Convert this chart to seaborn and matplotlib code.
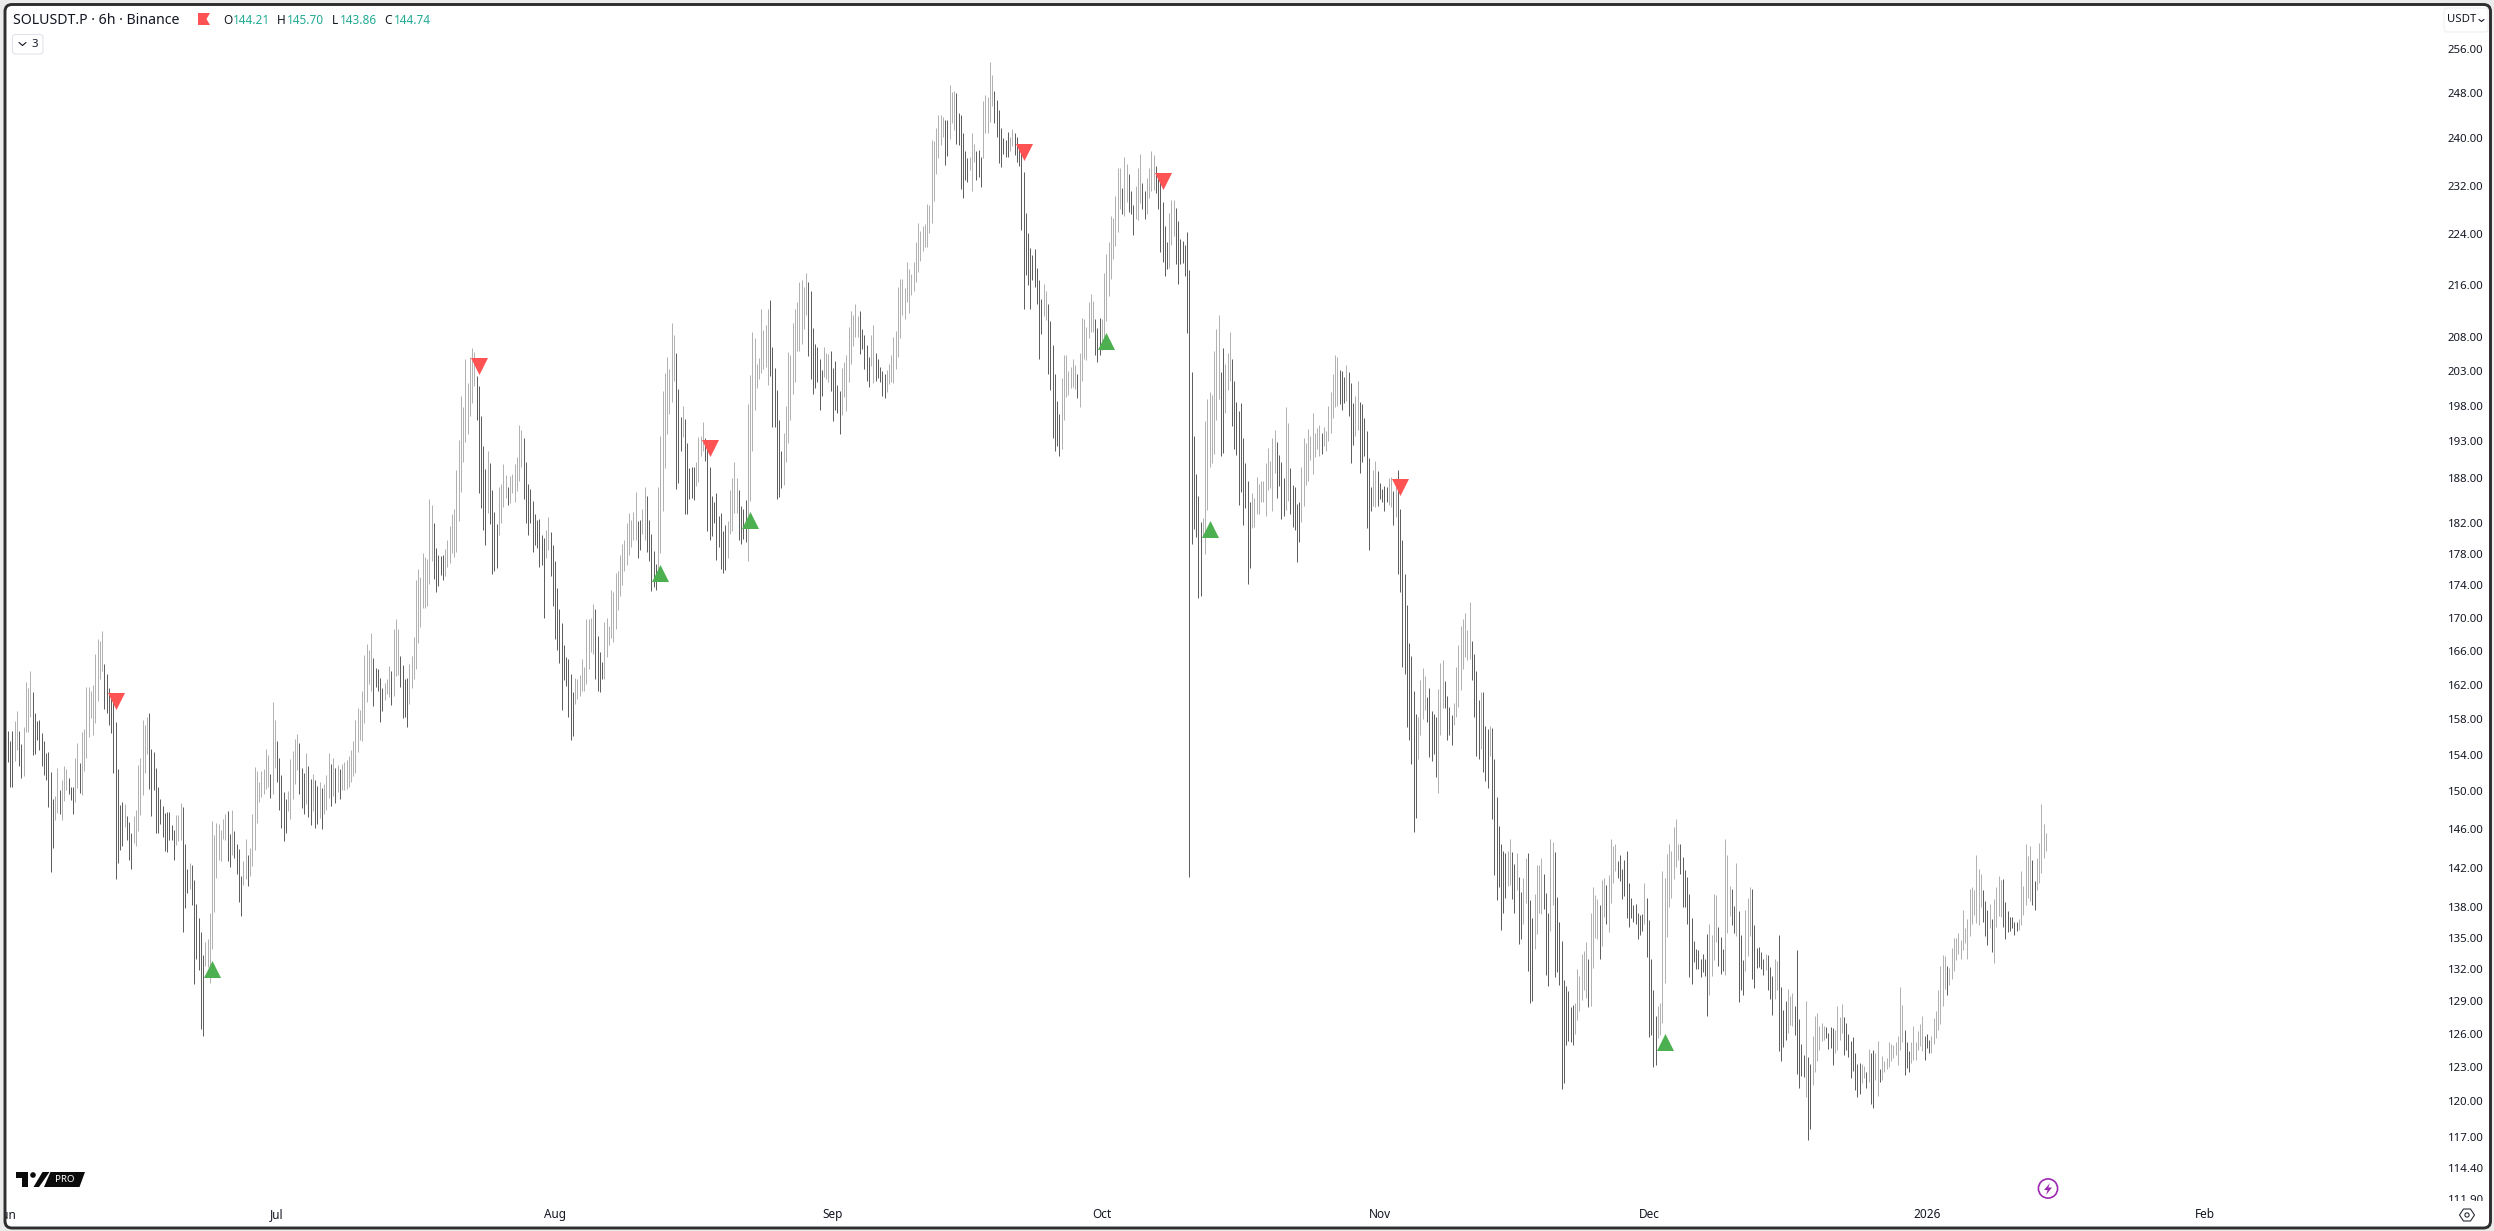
import matplotlib
matplotlib.use("Agg")
import matplotlib.pyplot as plt
import matplotlib.dates as mdates
from matplotlib.patches import FancyBboxPatch, Polygon, Circle
from matplotlib.ticker import FixedLocator, NullLocator
from matplotlib.transforms import Bbox
import pandas as pd
import seaborn as sns

# Each 6h bar is (first price, last price): up bars run low->high, down bars high->low.
bars_june = [(156.7,153.2),(155.5,150.5),(156.7,150.5),(153.3,157.8),(154.5,158.9),(156.7,152.8),(155.2,151.5),(151.7,157.1),(156.5,162.3),(156.5,161.6),
(158.2,163.6),(161.1,154.0),(158.7,154.1),(157.8,155.6),(157.9,154.5),(156.4,152.8),(155.5,151.8),(154.2,151.2),(154.3,148.3),(152.1,141.5),
(149.2,144.0),(146.9,149.5),(147.7,152.6),(150.2,147.6),(146.9,151.2),(149.0,152.8),(150.1,152.4),(151.5,149.7),(150.5,149.1),(150.5,147.6),
(148.9,153.7),(150.4,155.3),(153.1,149.8),(149.6,156.5),(152.2,156.9),(153.7,161.7),(156.0,161.7),(158.1,161.3),(156.2,161.9),(157.6,165.6),
(160.1,167.4),(162.7,167.2),(163.6,168.3),(164.4,159.2),(163.2,158.7),(161.6,157.4),(160.8,156.4),(160,152),(157.7,140.8),(152.4,142.5),
(148.5,143.8),(148.9,144.2),(146.2,148.7),(147.4,144.8),(146.7,142.8),(145.6,141.9),(144.5,147.4),(144.2,148.0),(145.8,152.9),(147.5,153.6),
(149.6,157.9),(152,157.4),(154.1,158.2),(158.7,150.3),(154.7,147.4),(154.3,150.1),(152.6,145.6),(150.5,145.6),(149.2,146.5),(148.4,145.2),
(147.7,143.7),(147.8,143.6),(147.8,144.8),(146.4,144.8),(145.9,142.8),(144.3,147.5),(144.7,147.5),(144.8,148.8),(148.3,135.6),(144.4,137.9),
(141.9,139.4),(139.8,142.5),(142.3,138.2),(140.7,130.6),(138.3,133.0),(136.9,131.9),(135.6,126.4),(133.3,125.8),(132.3,134.6),(132.2,134.9),
(130.7,137.4),(133.9,146.8),(137.5,145.4),(140.9,146.6),(142.8,146.5),(142.7,145.9),(144.9,147.0),(144.8,147.6),(147.9,142.7),(145.5,142.1),
(143.3,148),(145.8,143.0),(144.4,141.3),(143.9,138.5),(141.1,137.1),(140.2,142.7),(140.8,144.9),(143.3,140.1),(141.1,144.0),(142.2,147.6),
(143.8,152.7),(146.6,152.2),(148.9,151.0),(149.4,152.2),(149.7,152.4),(150.3,154.7),(150.5,154.0),(151.9,149.3),(149.7,160),(152.6,157.9),
(155.5,151.0),(153.7,148),(151.8,146.1),(149.9,144.7),(149.2,145.6),(147.9,150),(147.1,153.5),(149.2,154.4),(150.8,155.8),(152.3,156.3),(155.3,149.7)]

bars_july = [(152.6,148.2),(152,147.6),(148.6,154.2),(152.8,147.3),(151.4,146.4),(147.9,151.9),(151.2,146.1),(150.6,146.5),(147.2,151.0),(150.4,146.0),
(147.6,150.8),(148.0,151.8),(149.3,154.2),(153.0,148.4),(149.5,153.6),(152.5,148.8),(149.9,152.9),(152.4,149.2),(150.2,153.0),(150.1,153.2),(150.3,153.4),
(150.5,153.9),(151,154.5),(151.7,155.5),(152,157.9),(154.3,159.3),(155.7,159.1),(155.5,161.2),(157.6,165.5),(160,166.8),(162.1,166.1),(161.2,168.1),
(165.1,159.5),(163.9,161.7),(163.8,161.3),(162.8,157.7),(161.6,158.9),(160.2,162.2),(160.9,162.7),(160.5,164.2),(163.6,159.6),(160.7,168.6),(163,169.8),(163.1,168.6),
(165.4,161.7),(164.3,158.1),(162.6,158.3),(162.8,157.1),(159.7,164.4),(161.6,165.4),(162.6,167.6),(163.8,174.7),(166.9,176),(168.8,175),(171.2,178.1),(171.2,177.6),(171.4,177.3),
(174.1,185.1),(177,184.4),(182,174.8),(178.7,173.2),(177.8,173.9),(177.7,175.3),(177.8,174.7),(175.1,178.6),(176.3,179.8),(176.8,181.6),(178.1,183.2),(177.6,183.8),
(178.2,189),(182.2,193.2),(186.1,199.4),(190.2,197.8),(192.9,204.8),(194,201.3),(196.5,205.1),(198.4,206.4),(200.8,205.8),(202.3,196),(200.8,186),(196.5,184),(192.4,181),(189.2,179.1),
(183.3,191.7),(190,181.9),(186.4,175.4),(183.4,175.8),(181.9,176.2),(180.4,186.8),(182,187.2),(184.1,189.8),(185.3,188.4),(186.8,184.3),(184.6,188.3),(186,188.5),(184.8,189.8),(186.2,190.8),
(187.6,195.3),(189.5,194.5),(193.5,185.2),(190.2,182),(187.2,180.4),(186.5,182),(184.9,178.2),(183.2,179.1),(182.3,178.7),(182.5,176.3),(180.4,176.6),(180,170),(177.5,181.1),(178.5,182.7),
(180.8,175.2),(179.1,171.4),(177,167.4),(173.6,166.1),(171.1,164.5),(169.3,159.1),(166.7,162.5),(165.2,161.8),(165,158.3),(163.2,155.7),(161.1,156.1),(159.7,162.8),(160.3,162.7),(160.7,163.1),
(161.3,165),(161.2,164),(162.1,169.8),(163.8,169.8),(165.8,170),(165.6,171.7),(171,162.7),(167.8,161.2),(165.8,161.1),(164.6,162.7),(162.6,169.5),(165.2,169.9),(166.7,169),(167.5,173.4),(167,173.1),(168.6,175.5),(170.9,175.8)]

bars_august = [(172.6,177.8),(174,179.3),(175.8,179.7),(176.6,182),(177.8,183.3),(178.8,182.3),(179.7,183.4),(179.7,186.1),(182.2,177.4),(182.3,178.5),(180.5,183.8),(179.8,186.8),(185.5,178.2),(182.3,177.1),
(180.6,173.3),(178.3,173.8),(176.7,173.4),(174.7,186.7),(178.1,193.8),(183.6,200.1),(189.3,202.7),(194,205),(196.8,203.3),(198.5,210.1),(201.5,208.3),(205.6,186.5),(200.4,187.3),(196.4,191.7),
(193.6,198),(196.1,183.2),(192.7,183.2),(189.3,185.2),(189.5,185.3),(189.4,185),(186.9,190.2),(187.4,193.6),(190.9,193.7),(191.7,195.7),(193.4,190.3),(192.1,180.9),(189.4,179.7),(185.5,180.3),
(184.8,182),(185.9,177.2),(182.9,178.9),(183.3,176.1),(180.9,175.5),(181.7,175.9),(177.4,182.2),(180.6,186.3),(180.9,187.9),(183.3,190.2),(183.3,188),(186.4,179.7),(184.2,179.3),(183.8,179.9),(185,179.5),
(177,198.2),(184.9,202.4),(191.7,208.8),(197.4,207.9),(200.5,204),(201.8,204.9),(202.7,212.2),(203.3,209.1),(203.6,209.9),(201,212.2),(213.6,202.3),(206.6,195),(203.5,195),(200.3,185.2),(196,185.4),(191.7,186.6),
(187,194.2),(190.2,198),(192.7,205.8),(196,205.3),(199.7,210.1),(201.4,212.2),(206,213.3),(206,216.5),(207,216.8),(209.3,215.7),(211.4,217.8),(216.4,205.2),(215,201.8),(209.4,199.7),(207,200.5),(206.6,201.4),(204.8,197.4),(203.2,199.4),
(202.1,206.6),(201.9,205.7),(201.4,205.5),(206,200.1),(203.5,195.8),(204.5,197.4),(201,197),(200.1,194),(196.7,203.5),(199.2,204.4),(197.3,205.3),(201.4,209.6),(204.1,211.9),(206.7,211.3),(208,213),(208.1,211.2),
(211.9,205.5),(209.2,206.2),(208.3,203.3),(206.8,201.6),(205,200.7),(203.7,208.3),(201.3,209.9),(205.7,201.6),(204.7,202),(203.6,201.4),(203,199.4),(202.5,199.1),(200,203.2),(201.1,204),(201.4,205.3),(201.3,208),(203.3,209),
(205.1,215.7),(207.9,216.9),(211.3,216.9),(210.7,215.5),(213.4,219.6),(211.6,218.5),(214.4,217.7),(215.1,219.6),(216.5,222.7),(218,225.8),(219.8,224.5),(221.3,225.3),(221.9,225.6),(222,229),(224.2,228.8),(225.9,239.7),(229.5,239.5),
(234,241.8),(236.7,244.1),(238.8,244.1),(240.3,243.7),(243.2,235.5),(243.2,237)]

bars_september = [(239.9,249.5),(242.6,248.2),(241.4,248.4),(247.9,239),(244.5,238.9),(244,231.4),(241,229.9),(237.8,232.9),(236.6,232.6),(234.6,236.9),(231.1,240.9),(236,239),(237.8,233),(238.1,233.5),(236.9,231.7),(236.7,246.6),(240.9,247.7),(240.9,247.2),
(242.9,253.5),(245.7,251.3),(248.4,242.7),(246.8,240.2),(244.9,235.8),(241.9,235.1),(240,237.3),(239.7,236.8),(241.2,236.9),(237.9,240.2),(238.7,241.7),(241,237.1),(240.2,235.9),(238.7,235.3),(237.8,224.7),(234.2,212.3),(227.5,217.6),(224.2,216),
(221.8,212.3),(220.7,216.8),(221.7,215.7),(218.7,213.1),(216.8,204.7),(213.8,208.5),(211.2,216.2),(210.6,215.1),(213.1,202.6),(210.5,200.3),(206.8,193.5),(202.6,191.6),(198.7,192.4),(196.8,190.9),(191.9,202),(196,205.4),(199.2,205.3),(199.6,203),
(200.6,203.6),(200.7,204.8),(200.4,203.9),(202.6,199.1),(197.8,205.7),(201.5,210.9),(204.7,210.8),(204.6,209.5),(207.9,213.4),(208.8,214.6),(208.8,213.5),(210.8,205.4),(209.4,204.3),(210.9,205.3),(206.1,210.8),(207.6,217.9),(210.5,220.9),(214.3,222.8),
(216.9,226.9),(220,226.6),(222.1,230.3),(224.4,234.9),(228.1,234.9),(231.6,227.3),(226.9,236.9),(229.3,235.6),(234,227.6),(231.1,227.3),(228.8,223.9),(226.5,232),(226.3,234.9),(229.1,237.3),(232.5,228.1),(231.1,226.5),(227.3,233.2),(229.9,234.9),
(231.1,237.8),(231.3,237.1),(235.3,230.8),(233.7,228.1),(233,221.2),(229.3,219.6),(225.3,217.3),(222.8,218.5),(218.7,227.5),(222.3,229.6),(223.8,229.6),(228.3,219.3),(226.1,216.2),(223.3,219.3),(222.9,219.4),(222.3,217.3),(224.4,208.7)]

bars_october = [(218.3,141),(202.8,179.2),(193.8,181.2),(188.5,180.2),(185.6,172.4),(182.1,172.6),(180.2,182.6),(178,195.8),(183.7,199),(189.5,200),(190,199.5),(191.3,205.9),(196,209.3),(199,211.3),(202.9,191),(206.4,191.4),(196.9,204),(200.2,205.7),(201.6,208.8),
(204.8,195.1),(201.6,191.9),(198.6,191.1),(197.2,184.4),(198.4,186.1),(193.5,181.7),(190,184),(187.6,174.1),(184.8,176.2),(181.3,185.9),(181.5,185.3),(183.1,188.1),(183.1,187.2),(184.8,187.6),(184.7,187.6),(182.9,190),(186.4,192.1),(186.6,190.3),(183.6,193.4),(188.6,194.6),
(192.9,185.3),(191.1,186.9),(190.1,182.5),(187.9,182.9),(183.7,197.8),(184.9,195.5),(189.3,183.1),(187,181.4),(186.7,181),(184.5,176.9),(184.7,179.5),(182.1,189.4),(184.2,193.5),(187,192.8),(187.5,194.7),(190.4,193.7),(188.5,197),(190.8,194.2),(191.9,194.8),(190.9,195.3),
(194.2,191.2),(192.3,195),(191.7,194.4),(193.1,198),(194.2,200),(196.2,202.6),(197.8,205.3),(198,205.1),(203.2,198.2),(203,197.4),(202.2,198.4),(198.7,203.9),(202.9,196.6),(201.2,190),(198.4,192.5),(193.7,199.4),(194.6,201.6),(198.5,188.6),(198.2,190.1),(196.3,191),
(194.4,181.3),(190.7,178.5),(186.7,183.5),(184.2,189.1),(184.1,190.3),(188.9,184.2),(187.3,185.2),(186.5,184.7),(186.9,183.5),(186.7,184.7),(184.4,187.9),(184.1,188.1),(186.2,181.7),(182.7,187.9),(189,175.4),(183.8,173.1),(179.7,164),(175.4,163.2),(171.5,157.1),(166.9,155.7),
(165.3,153),(161.2,145.7),(158.6,147.2),(153.5,158.2),(156.2,162.5),(158,163.9),(159,163),(160.6,157.7),(161.6,153.8),(158.9,153.3),(158.6,154.1),(158.3,151.6),(149.8,161.5),(156.2,164.5),(159.3,164.9),(162.4,159.3),(160.7,155.6)]

bars_november = [(159.4,156.2),(158.5,155.1),(157.4,159.9),(158.2,164.1),(159.4,166.7),(161.4,169),(163.8,169.8),(165.2,170.5),(164.9,168.5),(165,171.9),(167.1,162.5),(165.6,158.2),(163.6,153.9),(160.2,153.5),(154.7,161.1),(161.1,152.1),(157.2,151.1),(156.9,150.4),(153.9,157.2),
(157,147),(153.5,141.2),(149.4,138.7),(146.3,140),(144.4,135.8),(143.7,137.4),(143.5,138.9),(140.1,143.7),(140.2,144.9),(143.6,138.8),(142.4,137.4),(139.7,143.5),(141,134.4),(139.5,134.9),(136.3,140.9),(138.4,143),(143.5,131.8),(138.7,128.8),(136.9,129),(133.9,139.3),(135.4,142.3),
(137.4,142.3),(137.3,143),(141.3,137.8),(139.4,131.4),(137.4,130.4),(135.7,145),(138.2,144.6),(143.6,131.2),(139,131.7),(136.5,130.5),(134.7,121.1),(131,121.6),(130.4,125),(129.9,125.3),(128.4,125.2),(128.6,125),(126,128.8),(127.2,132),(128.1,131.3),(129.1,133.4),(130,133.7),(129.3,134.6),
(133,128.4),(128.5,137.4),(132.1,140),(135,139.2),(134.9,138.8),(138.2,133),(134.2,140.7),(137,140.9),(140.2,136.3),(135.6,141.2),(138.4,144.9),(140.4,144.2),(141.7,144.4),(142.7,140.9),(143.3,140.6),(141.9,138.8),(142.8,139.1),(143.7,136.9),(140.4,136.1),(138.9,136.9),
(138.2,136.5),(138.3,136.3),(137.4,134.9),(137.2,135.3),(137.3,135.7),(136.3,140.4),(138.9,133.1),(136.7,125.7),(133,125.9),(130,123),(127.6,123.2),(125.6,128.5),(125.9,128.8),(127,141.7),(130.7,140.9),(135.1,143.4),(138,144.4),(138.9,143.7),(140.8,146.2),(142.1,147),(142.8,144.4),
(144.4,141.3),(143.1,138),(141.8,138),(141,136.3),(139.3,131.2),(136.9,130.6),(134.7,132.7),(133.9,132)]

bars_december = [(133.8,132),(133,131.2),(133.4,131.7),(133,131.3),(135.4,127.6),(129.6,136.3),(131.3,135.3),(132.9,139.3),(134.6,139.2),(136.1,132.3),(135.1,131.5),(133.9,131.8),(131.4,144.9),(135.5,143.3),(137.1,140.1),(139.8,136.2),(138.1,135.5),(135.2,142.5),(137.6,128.9),(135.3,130),
(132.9,129.6),(131.8,137.7),(133.2,138.9),(135.2,140),(139.8,131.1),(136.2,130.2),(134,132.1),(134.1,132.2),(133.6,132),(133,131.4),(131.9,133.4),(133.3,130),(132.2,129.2),(131.3,127.7),(129.2,133),(130,132.8),(135.3,124.4),(130.3,123.5),(128.2,124.8),(129,125.4),(126.1,130.1),(126.8,129.5),
(126.7,129.7),(128.5,125.9),(133.8,122.4),(127.3,121.2),(125.1,122.2),(124.1,122.1),(120.4,129),(123.9,116.7),(123.3,117.6),(121.4,125.8),(122.6,127.6),(123.5,127.9),(124.5,126.7),(125.3,127),(125.4,126.7),(126.6,125.6),(126.1,124.6),(126.6,124.7),(126.5,123.2),(124.3,126.3),(124.5,128.5),
(125.4,127.5),(126.1,128.7),(127.5,124.1),(127,124.5),(126,123.9),(125.3,122),(125.7,122.7),(124.3,121),(123.3,120.4),(123.4,120.6),(121.6,123.3),(122,123.1),(122.6,121.2)]

bars_january = [(121.7,124.6),(124.3,119.8),(124.5,119.4),(121.9,124.3),(120.5,125.3),(122.8,121.7),(121.9,124),(122.6,123.5),(122.8,123.8),(123,125.2),(123.5,125.1),(123.8,125),(124.1,125.2),(123.2,125.8),(124.5,130.3),(125.2,128.6),(126.3,122.3),(125.2,122.9),(124.4,122.6),(123.4,125.2),(123.6,126.7),(123.6,125.2),
(124.5,126.2),(124.9,126.9),(124.4,127.6),(125.8,123.6),(126,124.7),(125.4,124.3),(124.3,125.8),(125.1,127.4),(125.6,128.1),(126.3,130),(126.9,132.3),(128.5,133.3),(130.1,133.2),(132.3,129.6),(130.5,132.1),(131.1,134),(131.8,135),(132.9,135),(133.4,135.5),(133,134.8),(133.8,137.7),(134.5,136),(133,136.8),
(135.2,139.8),(136.3,140),(137.2,139.7),(136.4,143.3),(136.2,141.9),(138,141.3),(139.7,136.5),(138.6,135.2),(137.7,134.3),(136,138.3),(136.8,133.6),(132.6,138.8),(136.1,140),(137.1,141.1),(137,140.7),(140.8,136.1),(138.5,134.9),(137.6,135.6),(137,135.7),(137,136),(136.5,135.3),(136.5,135.7),(135.8,136.8),
(136.2,141.6),(137.2,140.1),(138.2,144.4),(138.9,143.2),(138.6,144.2),(142.8,138.2),(140.6,137.7),(139.7,143),(140.4,144.5),(141.4,148.7),(143,146.5),(143.7,145.6)]

price_ticks = [256,248,240,232,224,216,208,203,198,193,188,182,178,174,170,166,162,158,154,150,146,142,138,135,132,129,126,123,120,117,114.4,111.9]
month_ticks = ["2025-06-01","2025-07-01","2025-08-01","2025-09-01","2025-10-01","2025-11-01","2025-12-01","2026-01-01","2026-02-01"]
month_labels = ["Jun","Jul","Aug","Sep","Oct","Nov","Dec","2026","Feb"]
sell_times = ["2025-06-13 00:00","2025-07-23 12:00","2025-08-18 06:00","2025-09-22 06:00","2025-10-07 18:00","2025-11-03 06:00"]
sell_prices = [160.1,203.8,192.1,237.7,232.8,186.7]
buy_times = ["2025-06-23 18:00","2025-08-12 18:00","2025-08-22 18:00","2025-10-01 12:00","2025-10-13 00:00","2025-12-02 18:00"]
buy_prices = [132.0,175.6,182.4,207.4,181.2,125.2]
ohlc_names = ["O","H","L","C"]
ohlc_values = ["144.21","145.70","143.86","144.74"]

UP, DOWN = "#b2b2b2", "#5f5f5f"
INK = "#131722"

W, H = 2494, 1231
sns.set_theme(style="white")
plt.rcParams['font.family'] = ['Noto Sans', 'DejaVu Sans']

fig = plt.figure(figsize=(W/100, H/100), dpi=100, facecolor="#ebebeb")

# chrome layer, in figure pixels
bg = fig.add_axes([0, 0, 1, 1], zorder=0)
bg.set_xlim(0, W); bg.set_ylim(H, 0); bg.axis("off")
bg.add_patch(FancyBboxPatch((5, 4.5), 2485.5, 1223.5, boxstyle="round,pad=0,rounding_size=7",
                            fc="white", ec="#2e2e2e", lw=2.1))
bg.text(13, 20, "SOLUSDT.P · 6h · Binance", fontsize=10.2, color=INK, va="center", ha="left")
bg.add_patch(Polygon([(198,13),(210,13),(206.5,19),(210,25),(198,25)], fc="#ff5252", ec="none"))
name_x = [223, 277, 332, 384]
val_x = [233, 287, 339.5, 394]
for n, nx, v, vx in zip(ohlc_names, name_x, ohlc_values, val_x):
    bg.text(nx, 20, n, fontsize=8.5, color=INK, va="center", ha="left")
    bg.text(vx, 20, v, fontsize=8.5, color="#22ab94", va="center", ha="left")
bg.add_patch(FancyBboxPatch((12.5, 34.5), 30.5, 19.5, boxstyle="round,pad=0,rounding_size=3",
                            fc="white", ec="#e0e3eb", lw=0.8))
bg.plot([19, 22.5, 26], [42.5, 45.5, 42.5], color=INK, lw=0.8)
bg.text(35, 44.5, "3", fontsize=8.2, color=INK, va="center", ha="center")
bg.add_patch(FancyBboxPatch((2444, 8), 44, 24, boxstyle="round,pad=0,rounding_size=3",
                            fc="white", ec="#eef0f4", lw=0.8))
bg.text(2447.5, 20, "USDT", fontsize=8.2, color=INK, va="center", ha="left")
bg.plot([2479, 2481.5, 2484], [19.5, 21.5, 19.5], color=INK, lw=0.8)
# logo
bg.add_patch(Polygon([(16,1172),(28.3,1172),(28.3,1187),(21.7,1187),(21.7,1178),(16,1178)], fc="#0b0b0b", ec="none"))
bg.add_patch(Circle((33, 1175), 2.8, fc="#0b0b0b", ec="none"))
bg.add_patch(Polygon([(42.5,1172),(49.5,1172),(39,1187),(33.5,1187)], fc="#0b0b0b", ec="none"))
bg.add_patch(Polygon([(50.5,1172),(85,1172),(79.5,1187),(44,1187)], fc="#0b0b0b", ec="none"))
bg.text(64.5, 1179.5, "PRO", fontsize=7.0, color="white", weight="bold", va="center", ha="center")
# lightning badge and settings mark
bg.add_patch(Circle((2048, 1188.5), 9.6, fc="white", ec="#9c27b0", lw=1.2))
bg.add_patch(Polygon([(2050,1183),(2044,1190),(2047.6,1190),(2046,1195),(2052,1187.5),(2048.4,1187.5)], fc="#9c27b0", ec="none"))
bg.add_patch(Polygon([(2459.5,1215),(2463.5,1209),(2470.5,1209),(2474.5,1215),(2470.5,1221),(2463.5,1221)], fc="white", ec="#2a2e39", lw=0.8))
bg.add_patch(Circle((2467, 1215), 2.1, fc="white", ec="#2a2e39", lw=0.8))

# price pane
left, right, top, bottom = 6, 2436, 5, 1201
ax = fig.add_axes([left/W, (H-bottom)/H, (right-left)/W, (bottom-top)/H], zorder=1)
ax.patch.set_alpha(0)

segments = [bars_june, bars_july, bars_august, bars_september, bars_october, bars_november, bars_december, bars_january]
all_bars = [b for seg in segments for b in seg]
times = pd.date_range("2025-06-01", periods=len(all_bars), freq="6h")
rows = []
for i, (t, (first, last)) in enumerate(zip(times, all_bars)):
    kind = "up" if last > first else "down"
    rows.append((t, first, i, kind))
    rows.append((t, last, i, kind))
df = pd.DataFrame(rows, columns=["time", "price", "bar", "kind"])

sns.lineplot(data=df, x="time", y="price", units="bar", hue="kind", estimator=None, sort=False,
             palette={"up": UP, "down": DOWN}, linewidth=0.72, legend=False, ax=ax, solid_capstyle="butt")
sns.scatterplot(x=pd.to_datetime(sell_times), y=sell_prices, marker="v", color="#ff5252", s=150,
                linewidth=0, ax=ax, zorder=5, legend=False)
sns.scatterplot(x=pd.to_datetime(buy_times), y=buy_prices, marker="^", color="#4caf50", s=150,
                linewidth=0, ax=ax, zorder=5, legend=False)

ax.set_yscale("log")
ax.set_ylim(111.7, 264.2)
ax.set_xlim(pd.Timestamp("2025-06-01") - pd.Timedelta(days=0.223), pd.Timestamp("2025-06-01") + pd.Timedelta(days=270.77))
ax.set_xlabel(""); ax.set_ylabel("")
for s in ax.spines.values():
    s.set_visible(False)

ax.yaxis.tick_right()
ax.yaxis.set_major_locator(FixedLocator(price_ticks))
ax.yaxis.set_minor_locator(NullLocator())
ax.set_yticklabels([f"{p:.2f}" for p in price_ticks])
ax.set_xticks(mdates.date2num(pd.to_datetime(month_ticks)))
ax.set_xticklabels(month_labels)
ax.tick_params(axis="y", length=0, pad=8.6, labelsize=8.2, labelcolor=INK)
ax.tick_params(axis="x", length=0, pad=5.0, labelsize=8.5, labelcolor=INK)
for lab in ax.get_xticklabels():
    lab.set_clip_box(Bbox([[6, 0], [W, H]])); lab.set_clip_on(True)
    if lab.get_text() == "2026":
        lab.set_fontweight("bold")
for lab in ax.get_yticklabels():
    lab.set_clip_box(Bbox([[2440, H-bottom], [W, H]])); lab.set_clip_on(True)

fig.savefig("out.png", dpi=100, facecolor=fig.get_facecolor())
